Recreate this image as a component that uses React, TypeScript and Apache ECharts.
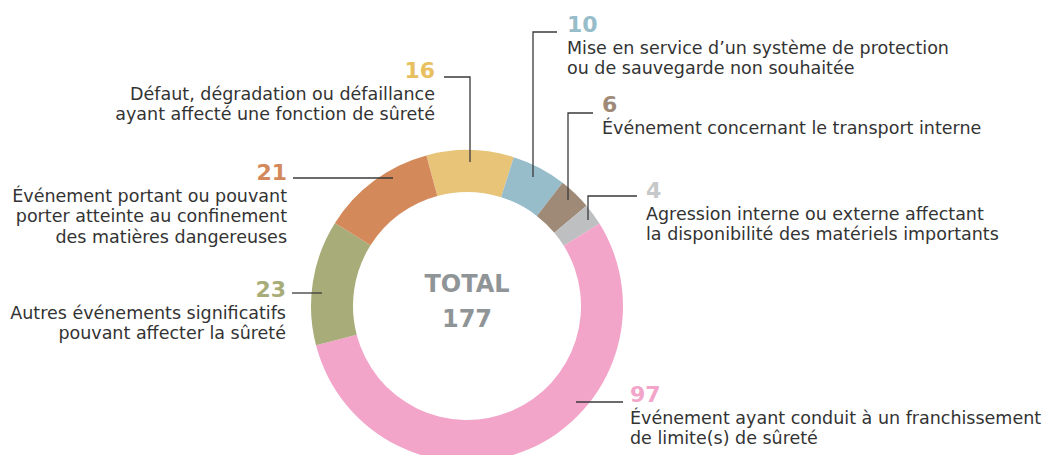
import React, { useEffect, useRef } from "react";
import * as echarts from "echarts";

const categories = [
  "Défaut, dégradation ou défaillance\nayant affecté une fonction de sûreté",
  "Mise en service d’un système de protection\nou de sauvegarde non souhaitée",
  "Événement concernant le transport interne",
  "Agression interne ou externe affectant\nla disponibilité des matériels importants",
  "Événement ayant conduit à un franchissement\nde limite(s) de sûreté",
  "Autres événements significatifs\npouvant affecter la sûreté",
  "Événement portant ou pouvant\nporter atteinte au confinement\ndes matières dangereuses",
];
const values = [16, 10, 6, 4, 97, 23, 21];
const colors = ["#E8C479", "#97BCCA", "#9E8A77", "#BDBFC1", "#F2A4C9", "#A8AC78", "#D4895B"];
const numberColors = ["#E8C05F", "#97BCCA", "#9E8A77", "#C7C8CA", "#F2A4C9", "#A8AC78", "#D4895B"];
const totalLabel = "TOTAL";

// label layout: [x, numberTop, align]
const layout: [number, number, "left" | "right"][] = [
  [435, 59, "right"],
  [567, 13, "left"],
  [602, 93, "left"],
  [646, 179, "left"],
  [630, 383, "left"],
  [286, 278, "right"],
  [287, 161, "right"],
];
// leader lines
const leaders: number[][][] = [
  [[444, 77], [470, 77], [470, 162]],
  [[557, 32], [533, 32], [533, 177]],
  [[593, 113], [568, 113], [568, 200]],
  [[637, 196], [588, 196], [588, 220]],
  [[623, 402], [576, 402]],
  [[292, 293], [322, 293]],
  [[293, 178], [393, 178]],
];

const FONT = "'DejaVu Sans', sans-serif";

export default function App() {
  const ref = useRef<HTMLDivElement>(null);
  useEffect(() => {
    document.body.style.margin = "0";
    const chart = echarts.init(ref.current!, null, { renderer: "svg" });
    const total = values.reduce((a, b) => a + b, 0);
    const graphic: any[] = [];
    layout.forEach(([x, top, align], i) => {
      graphic.push({
        type: "text",
        x,
        y: top,
        style: {
          text: String(values[i]),
          font: `bold 22px ${FONT}`,
          fill: numberColors[i],
          align,
          verticalAlign: "top",
        },
      });
      graphic.push({
        type: "text",
        x,
        y: top + 24.5,
        style: {
          text: categories[i],
          font: `17.5px ${FONT}`,
          fill: "#333333",
          align,
          verticalAlign: "top",
          lineHeight: 20.5,
        },
      });
    });
    leaders.forEach((pts) => {
      graphic.push({
        type: "polyline",
        shape: { points: pts },
        style: { stroke: "#3a3a3a", lineWidth: 1.3, fill: null },
        z: 10,
      });
    });
    graphic.push({
      type: "text",
      x: 467,
      y: 301,
      style: {
        text: `${totalLabel}\n${total}`,
        font: `bold 24px ${FONT}`,
        fill: "#8F9497",
        align: "center",
        verticalAlign: "middle",
        lineHeight: 35,
      },
    });
    chart.setOption({
      animation: false,
      series: [
        {
          type: "pie",
          center: [467, 306],
          radius: [114, 156],
          startAngle: 105.1,
          clockwise: true,
          label: { show: false },
          labelLine: { show: false },
          silent: true,
          data: values.map((v, i) => ({
            value: v,
            name: categories[i],
            itemStyle: { color: colors[i] },
          })),
        },
      ],
      graphic,
    });
    return () => chart.dispose();
  }, []);
  return <div ref={ref} style={{ width: 1049, height: 455 }} />;
}
